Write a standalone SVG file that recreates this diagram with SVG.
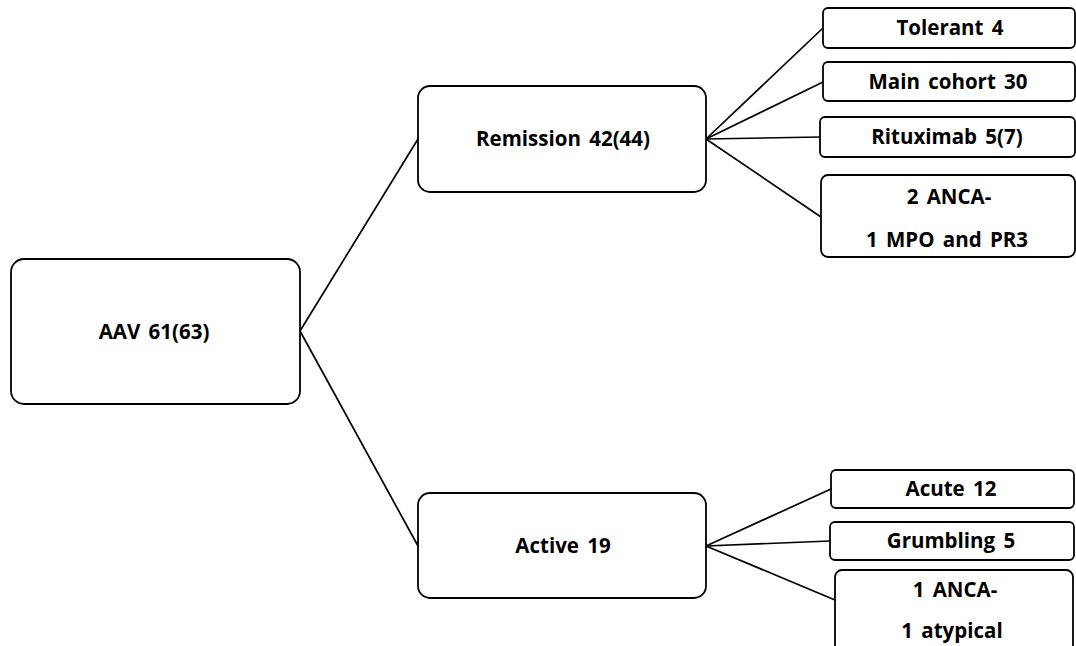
<svg xmlns="http://www.w3.org/2000/svg" width="1076" height="646" viewBox="0 0 1076 646">
<style>
.box{fill:#fff;stroke:#000;stroke-width:1.8}
.ln{stroke:#000;stroke-width:1.7;fill:none}
text{font-family:"Open Sans","Liberation Sans",sans-serif;font-weight:bold;font-size:20.5px;word-spacing:3px;fill:#000;text-anchor:middle;dominant-baseline:central}
</style>
<rect width="1076" height="646" fill="#fff"/>
<g id="connectors">
<line class="ln" x1="300" y1="331" x2="418" y2="139"/>
<line class="ln" x1="300" y1="331" x2="418" y2="546"/>
<line class="ln" x1="706" y1="139" x2="823" y2="28"/>
<line class="ln" x1="706" y1="139" x2="823" y2="82"/>
<line class="ln" x1="706" y1="139" x2="820" y2="137"/>
<line class="ln" x1="706" y1="139" x2="821" y2="217"/>
<line class="ln" x1="706" y1="546" x2="831" y2="489"/>
<line class="ln" x1="706" y1="546" x2="830" y2="541"/>
<line class="ln" x1="706" y1="546" x2="835" y2="600"/>
</g>
<g id="aav"><rect class="box" x="11" y="259" width="289" height="145" rx="13"/><text x="154" y="331">AAV 61(63)</text></g>
<g id="remission"><rect class="box" x="418" y="86" width="288" height="106" rx="12"/><text x="563" y="138">Remission 42(44)</text></g>
<g id="active"><rect class="box" x="418" y="493" width="288" height="105" rx="12"/><text x="563" y="545">Active 19</text></g>
<g id="tolerant"><rect class="box" x="823" y="8" width="252" height="40" rx="5"/><text x="950" y="27">Tolerant 4</text></g>
<g id="main"><rect class="box" x="823" y="62" width="252" height="39" rx="5"/><text x="948" y="81">Main cohort 30</text></g>
<g id="rituximab"><rect class="box" x="820" y="117" width="255" height="40" rx="5"/><text x="947" y="136">Rituximab 5(7)</text></g>
<g id="anca2"><rect class="box" x="821" y="175" width="254" height="82" rx="7"/><text x="949" y="196">2 ANCA-</text><text x="947" y="239">1 MPO and PR3</text></g>
<g id="acute"><rect class="box" x="831" y="470" width="243" height="38" rx="5"/><text x="951" y="488">Acute 12</text></g>
<g id="grumbling"><rect class="box" x="830" y="522" width="244" height="38" rx="5"/><text x="951" y="540">Grumbling 5</text></g>
<g id="anca1"><rect class="box" x="835" y="570" width="238" height="90" rx="7"/><text x="955" y="589">1 ANCA-</text><text x="952" y="630">1 atypical</text></g>
</svg>
